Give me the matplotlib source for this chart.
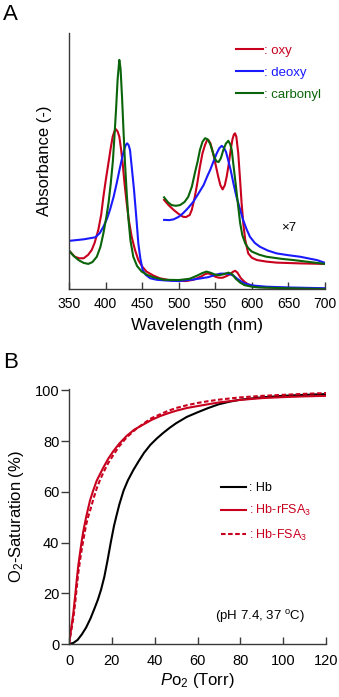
import numpy as np
import matplotlib
matplotlib.use('Agg')
import matplotlib.pyplot as plt
from matplotlib.lines import Line2D

plt.rcParams['font.family'] = ['Liberation Sans', 'DejaVu Sans']
plt.rcParams['mathtext.fontset'] = 'custom'
plt.rcParams['mathtext.rm'] = 'Liberation Sans'
plt.rcParams['mathtext.it'] = 'Liberation Sans:italic'

#----- panel A : absorption spectra (arb. units) -----
wl_oxy = [350, 354, 358, 364, 370, 376, 381, 385, 390, 394, 397, 400, 403.8, 407, 409.7, 412,
          414.3, 416.5, 418.8, 421, 423.4, 426, 428.9, 432, 435.7, 440, 444.8, 450, 456, 465,
          474, 490, 500, 510, 520, 530, 536, 540, 545, 550, 555, 560, 565, 570, 574, 577,
          580, 585, 590, 595, 602, 610, 630, 650, 700]
ab_oxy = [0.150, 0.138, 0.126, 0.120, 0.120, 0.133, 0.152, 0.180, 0.230, 0.290, 0.360, 0.420,
          0.490, 0.550, 0.595, 0.615, 0.624, 0.615, 0.595, 0.550, 0.490, 0.410, 0.335, 0.265,
          0.204, 0.155, 0.113, 0.088, 0.068, 0.053, 0.042, 0.033, 0.032, 0.031, 0.036, 0.048,
          0.058, 0.061, 0.057, 0.048, 0.044, 0.044, 0.050, 0.057, 0.067, 0.071, 0.065, 0.042,
          0.028, 0.018, 0.012, 0.008, 0.005, 0.004, 0.000]

wl_deoxy = [350, 370, 386, 392, 397, 402, 406, 411, 415.2, 419, 422, 425, 427.5, 429.5, 431.5,
            433.4, 436, 438.9, 442, 444.8, 447.5, 450.7, 455, 461, 470, 484, 500, 520, 540,
            550, 557, 565, 570, 575, 580, 585, 590, 600, 620, 650, 700]
ab_deoxy = [0.188, 0.194, 0.202, 0.218, 0.243, 0.275, 0.309, 0.360, 0.413, 0.465, 0.504, 0.540,
            0.562, 0.569, 0.562, 0.543, 0.470, 0.387, 0.280, 0.178, 0.120, 0.074, 0.055, 0.042,
            0.036, 0.033, 0.031, 0.037, 0.046, 0.055, 0.060, 0.060, 0.058, 0.052, 0.040, 0.030,
            0.022, 0.014, 0.009, 0.006, 0.003]

wl_co = [350, 356, 363, 370, 376.4, 382, 388, 393, 397, 401, 404, 407, 410, 412, 414.3, 416.5,
         418.8, 420.5, 422.5, 424.5, 426.6, 429, 431, 434, 437.9, 443, 449.4, 457, 465, 480,
         500, 515, 525, 532, 538, 544, 550, 555, 562, 568, 573, 578, 584, 590, 600, 610, 650, 700]
ab_co = [0.150, 0.130, 0.113, 0.102, 0.098, 0.105, 0.126, 0.165, 0.217, 0.280, 0.335, 0.410,
         0.500, 0.590, 0.700, 0.820, 0.895, 0.860, 0.750, 0.620, 0.490, 0.370, 0.282, 0.190,
         0.126, 0.090, 0.068, 0.055, 0.046, 0.036, 0.035, 0.040, 0.052, 0.062, 0.068, 0.063,
         0.056, 0.054, 0.058, 0.064, 0.058, 0.040, 0.025, 0.015, 0.009, 0.006, 0.003, 0.000]

# x7 magnified Q-band region
wl7_oxy = [480, 486, 493, 500, 506, 510, 515, 518, 522, 525.5, 529, 532.5, 536, 538.5, 540.5,
           543.5, 547, 550.5, 554, 557, 560, 563, 565.6, 568.5, 571, 573.5, 575.5, 577, 578.8,
           581.4, 583.8, 586, 588.5, 591, 595, 600, 607, 620, 634, 666, 700]
ab7_oxy = [0.348, 0.328, 0.309, 0.293, 0.282, 0.281, 0.289, 0.310, 0.360, 0.415, 0.478, 0.530,
           0.563, 0.580, 0.582, 0.568, 0.530, 0.485, 0.439, 0.405, 0.389, 0.405, 0.439, 0.490,
           0.543, 0.585, 0.604, 0.608, 0.595, 0.530, 0.430, 0.335, 0.250, 0.191, 0.139, 0.122,
           0.113, 0.107, 0.103, 0.100, 0.098]

wl7_deoxy = [480, 487, 493, 500, 506, 513, 520, 527, 534, 539, 543, 547.5, 552, 555.5, 558.7,
             561.5, 564.6, 567.5, 571, 575, 579, 584, 588, 593, 597.4, 604, 611, 622, 634, 650,
             666, 680, 689, 700]
ab7_deoxy = [0.270, 0.269, 0.272, 0.282, 0.296, 0.317, 0.341, 0.373, 0.406, 0.440, 0.465, 0.498,
             0.530, 0.550, 0.559, 0.553, 0.536, 0.505, 0.465, 0.410, 0.360, 0.310, 0.270, 0.232,
             0.204, 0.180, 0.165, 0.150, 0.139, 0.132, 0.126, 0.118, 0.113, 0.102]

wl7_co = [480, 485, 490, 496, 502, 508, 513, 518, 522, 526, 529, 532.5, 536, 539.5, 543, 546,
          549, 552, 554.5, 557.5, 561, 564.5, 567.8, 570.5, 572.5, 575, 578.3, 581, 584, 587,
          591, 595, 600, 610, 620, 640, 657, 680, 700]
ab7_co = [0.358, 0.340, 0.328, 0.325, 0.328, 0.340, 0.360, 0.400, 0.452, 0.500, 0.543, 0.575,
          0.589, 0.585, 0.567, 0.540, 0.512, 0.498, 0.496, 0.510, 0.543, 0.568, 0.579, 0.565,
          0.543, 0.480, 0.400, 0.330, 0.257, 0.210, 0.178, 0.160, 0.146, 0.134, 0.126, 0.118,
          0.113, 0.105, 0.098]

#----- panel B : O2 equilibrium curves -----
po2_hb = [0, 2, 4, 6, 8, 10, 12, 13.5, 15, 16.5, 18, 19.5, 21, 22, 23.5, 25.5, 27.5, 30, 32.5,
          35, 38, 41, 44, 47, 50, 55, 60, 65, 70, 75, 80, 90, 100, 110, 120]
sat_hb = [0, 0.4, 1.6, 3.8, 6.5, 10, 14.2, 17.5, 21.5, 26.5, 33, 40, 46.5, 50, 55, 60.5, 64.5,
          68.5, 72, 75.3, 78.5, 81, 83.2, 85.2, 87, 89.5, 91.3, 93, 94.5, 95.5, 96.3, 97.2,
          97.8, 98.2, 98.5]

po2_r = [0, 0.5, 1, 1.5, 2, 2.5, 3, 3.7, 4.35, 5, 5.5, 6.1, 6.7, 7.4, 8, 8.9, 9.8, 11.3, 12.9,
         14.5, 16, 18.3, 20.7, 23.5, 26.9, 30.5, 34.7, 38.5, 42.5, 46.5, 50.3, 55, 59.6, 65,
         70, 75, 80, 90, 100, 110, 120]
sat_r = [0, 3, 6, 9, 12, 16, 20, 26, 31, 35, 38, 41.5, 44.5, 47.5, 50, 53.3, 56.5, 60.5, 64.3,
         67, 69.5, 73, 76, 79, 82, 84.5, 86.5, 88.3, 89.8, 91, 92, 93, 93.7, 94.5, 95.2, 95.7,
         96.2, 96.9, 97.3, 97.6, 97.8]

po2_f = [0, 0.5, 1, 1.5, 2, 2.5, 3, 3.7, 4.35, 5, 5.5, 6.1, 6.7, 7.4, 8, 9, 10, 11.5, 13, 14.5,
         16, 18.3, 20.7, 23.5, 27, 31, 35, 38.5, 42.5, 46, 50, 55, 60, 65, 70, 80, 90, 100,
         110, 120]
sat_f = [0, 2.5, 5, 7.5, 10, 13.5, 17, 23, 28, 32, 35, 38, 41, 44.3, 47, 50.3, 53, 57.5, 61.5,
         64.7, 67.5, 71.3, 74.5, 78, 81.5, 84.5, 87, 89, 90.5, 91.8, 93, 94.1, 95, 95.7, 96.3,
         97.2, 97.8, 98.2, 98.6, 98.9]

red = '#c8001e'
blue = '#1a1aff'
green = '#0a640a'
spine = '#3a3a3a'
lw = 1.5
dash = (0, (2.2, 1.2))

fig = plt.figure(figsize=(3.39, 6.97), dpi=100)

# ---- A
ax1 = fig.add_axes([69/339, 1-289/697, 256/339, 256/697])
ax1.plot(wl_oxy, ab_oxy, color=red, lw=lw)
ax1.plot(wl_deoxy, ab_deoxy, color=blue, lw=lw)
ax1.plot(wl_co, ab_co, color=green, lw=lw)
ax1.plot(wl7_oxy, ab7_oxy, color=red, lw=lw)
ax1.plot(wl7_deoxy, ab7_deoxy, color=blue, lw=lw)
ax1.plot(wl7_co, ab7_co, color=green, lw=lw)
ax1.set_xlim(350, 700)
ax1.set_ylim(0, 1)
ax1.set_xticks(range(350, 701, 50))
ax1.set_yticks([])
for s in ['top', 'right']:
    ax1.spines[s].set_visible(False)
for s in ['left', 'bottom']:
    ax1.spines[s].set_color(spine)
    ax1.spines[s].set_linewidth(1.0)
ax1.tick_params(axis='x', direction='in', length=5, width=1, color=spine, labelsize=10, pad=6)
ax1.set_xlabel('Wavelength (nm)', fontsize=12.5, labelpad=5)
ax1.set_ylabel('Absorbance (-)', fontsize=12, labelpad=12)
ax1.text(650, 0.238, '×7', fontsize=9.5, ha='center', va='center')
h1 = [Line2D([], [], color=c, lw=lw) for c in (red, blue, green)]
ax1.legend(h1, [': oxy', ': deoxy', ': carbonyl'], loc='upper left',
           bbox_to_anchor=(158/256, 0.992), frameon=False, fontsize=9.5,
           labelcolor='linecolor', handlelength=2.0, handletextpad=0.1,
           labelspacing=0.75, borderaxespad=0.3)
fig.text(3/339, 1-15/697, 'A', fontsize=16, va='center', ha='left')

# ---- B
ax2 = fig.add_axes([69/339, 1-644/697, 257/339, 255/697])
ax2.plot(po2_hb, sat_hb, color='black', lw=lw)
ax2.plot(po2_r, sat_r, color=red, lw=lw)
ax2.plot(po2_f, sat_f, color=red, lw=lw, ls=dash)
ax2.set_xlim(0, 120)
ax2.set_ylim(0, 100.5)
ax2.set_xticks(range(0, 121, 20))
ax2.set_yticks(range(0, 101, 20))
for s in ['top', 'right']:
    ax2.spines[s].set_visible(False)
for s in ['left', 'bottom']:
    ax2.spines[s].set_color(spine)
    ax2.spines[s].set_linewidth(1.0)
ax2.tick_params(axis='x', direction='in', length=5, width=1, color=spine, labelsize=10.5, pad=7)
ax2.tick_params(axis='y', direction='out', length=6, width=1, color=spine, labelsize=10.5, pad=1)
ax2.set_xlabel(r'$\mathit{P}$o$_2$ (Torr)', fontsize=12, labelpad=2)
ax2.set_ylabel(r'O$_2$-Saturation (%)', fontsize=12, labelpad=6)
ax2.text(89, 11, r'(pH 7.4, 37 $^{\mathrm{o}}$C)', fontsize=9.5, ha='center', va='center')
h2 = [Line2D([], [], color='black', lw=lw), Line2D([], [], color=red, lw=lw),
      Line2D([], [], color=red, lw=lw, ls=dash)]
ax2.legend(h2, [': Hb', r': Hb-rFSA$_{\mathit{3}}$', r': Hb-FSA$_{\mathit{3}}$'],
           loc='upper left', bbox_to_anchor=(143/257, 0.67), frameon=False, fontsize=9,
           labelcolor=['black', red, red], handlelength=2.0, handletextpad=0.25,
           labelspacing=0.75, borderaxespad=0.3)
fig.text(3/339, 1-362/697, 'B', fontsize=16, va='center', ha='left')

fig.savefig('out.png', dpi=100)
